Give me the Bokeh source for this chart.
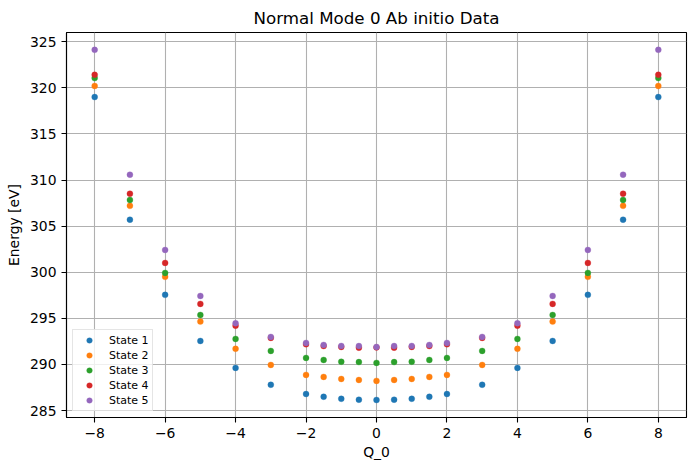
from bokeh.plotting import figure
from bokeh.models import Range1d, FixedTicker, Legend, LegendItem
from bokeh.embed import file_html
from bokeh.resources import INLINE

# Displacement along normal mode 0
q_values = [-8, -7, -6, -5, -4, -3, -2, -1.5, -1, -0.5, 0,
            0.5, 1, 1.5, 2, 3, 4, 5, 6, 7, 8]

# Ab initio energies [eV] for the five electronic states
state_1 = [319.00, 305.70, 297.55, 292.55, 289.63, 287.80, 286.80, 286.50, 286.28, 286.18, 286.15,
           286.18, 286.28, 286.50, 286.80, 287.80, 289.63, 292.55, 297.55, 305.70, 319.00]
state_2 = [320.20, 307.20, 299.50, 294.65, 291.70, 289.95, 288.87, 288.65, 288.43, 288.32, 288.22,
           288.32, 288.43, 288.65, 288.87, 289.95, 291.70, 294.65, 299.50, 307.20, 320.20]
state_3 = [321.06, 307.84, 299.93, 295.37, 292.77, 291.47, 290.71, 290.49, 290.30, 290.26, 290.17,
           290.26, 290.30, 290.49, 290.71, 291.47, 292.77, 295.37, 299.93, 307.84, 321.06]
state_4 = [321.42, 308.52, 301.01, 296.57, 294.21, 292.88, 292.19, 292.00, 291.90, 291.82, 291.85,
           291.82, 291.90, 292.00, 292.19, 292.88, 294.21, 296.57, 301.01, 308.52, 321.42]
state_5 = [324.12, 310.58, 302.42, 297.43, 294.47, 292.99, 292.34, 292.12, 292.01, 292.00, 291.90,
           292.00, 292.01, 292.12, 292.34, 292.99, 294.47, 297.43, 302.42, 310.58, 324.12]

state_names = ["State 1", "State 2", "State 3", "State 4", "State 5"]
state_colors = ["#1f77b4", "#ff7f0e", "#2ca02c", "#d62728", "#9467bd"]

x_ticks = [-8, -6, -4, -2, 0, 2, 4, 6, 8]
y_ticks = [285, 290, 295, 300, 305, 310, 315, 320, 325]

FONT = "DejaVu Sans"

p = figure(width=695, height=470, output_backend="svg", toolbar_location=None,
           title="Normal Mode 0 Ab initio Data",
           x_range=Range1d(-8.8, 8.8), y_range=Range1d(284.25, 326.0),
           min_border_left=66, min_border_right=9,
           min_border_top=32, min_border_bottom=53)

p.background_fill_color = "white"
p.border_fill_color = "white"
p.outline_line_color = "black"
p.outline_line_width = 1.1

p.title.text_font = FONT
p.title.text_font_size = "16.7px"
p.title.text_font_style = "normal"
p.title.align = "center"
p.title.text_color = "black"

for ax in (p.xaxis[0], p.yaxis[0]):
    ax.axis_line_color = "black"
    ax.axis_line_width = 1.1
    ax.major_tick_line_color = "black"
    ax.major_tick_line_width = 1.1
    ax.major_tick_in = 0
    ax.major_tick_out = 5
    ax.minor_tick_line_color = None
    ax.major_label_standoff = 5
    ax.major_label_text_font = FONT
    ax.major_label_text_font_size = "13.9px"
    ax.major_label_text_color = "black"
    ax.axis_label_text_font = FONT
    ax.axis_label_text_font_size = "13.9px"
    ax.axis_label_text_font_style = "normal"
    ax.axis_label_text_color = "black"

p.xaxis.ticker = FixedTicker(ticks=x_ticks)
p.yaxis.ticker = FixedTicker(ticks=y_ticks)
p.xaxis.major_label_overrides = {t: str(t).replace("-", "\u2212") for t in x_ticks}
p.xaxis.axis_label = "Q_0"
p.yaxis.axis_label = "Energy [eV]"
p.xaxis.axis_label_standoff = 3
p.yaxis.axis_label_standoff = 5

p.grid.grid_line_color = "#b0b0b0"
p.grid.grid_line_width = 1.1

items = []
for name, color, energies in zip(state_names, state_colors,
                                 [state_1, state_2, state_3, state_4, state_5]):
    r = p.scatter(q_values, energies, size=6, fill_color=color,
                  line_color=color, line_width=0.3)
    items.append(LegendItem(label=name, renderers=[r]))

legend = Legend(items=items, location="bottom_left")
legend.margin = 6
legend.padding = 3
legend.spacing = 1
legend.glyph_width = 26
legend.glyph_height = 14
legend.label_height = 14
legend.label_standoff = 7
legend.label_text_font = FONT
legend.label_text_font_size = "11px"
legend.label_text_color = "black"
legend.border_line_color = "#cccccc"
legend.border_line_width = 1
legend.background_fill_color = "white"
legend.background_fill_alpha = 0.8
p.add_layout(legend)

open("out.html", "w").write(file_html(p, INLINE))
